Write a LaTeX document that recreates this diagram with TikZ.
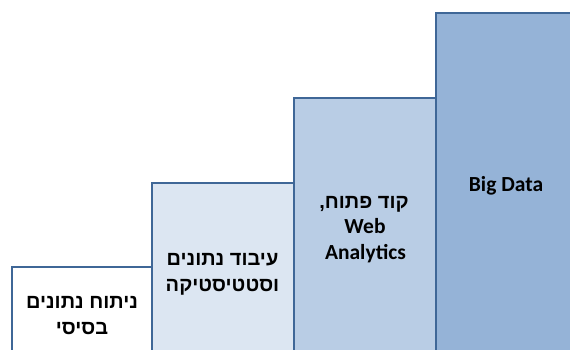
\documentclass[tikz,border=0pt]{standalone}
\usepackage{fontspec}
\setmainfont{Carlito}
\newfontfamily\hebfont[Script=Hebrew]{Liberation Sans Bold}
\TeXXeTstate=1
\definecolor{barline}{HTML}{3F6797}
\definecolor{fillA}{HTML}{FFFFFF}
\definecolor{fillB}{HTML}{DCE6F2}
\definecolor{fillC}{HTML}{B9CDE5}
\definecolor{fillD}{HTML}{95B3D7}
\tikzset{
  bar/.style={draw=barline, line width=1.6pt},
  heb/.style={anchor=base, inner sep=0pt, font=\hebfont\fontsize{20}{24}\selectfont},
  latin/.style={anchor=base, inner sep=0pt, font=\bfseries\fontsize{21.5}{24}\selectfont},
}
\begin{document}
\begin{tikzpicture}[x=1pt,y=-1pt]
\useasboundingbox (0,0) rectangle (570,349);
\clip (0,0) rectangle (570,349);
\fill[white] (0,0) rectangle (570,349);
\draw[bar, fill=fillD] (436,13) rectangle (590,370);
\draw[bar, fill=fillC] (294,98) rectangle (436,370);
\draw[bar, fill=fillB] (152,183) rectangle (294,370);
\draw[bar, fill=fillA] (12,267) rectangle (152,370);
\node[heb] (t1a) at (82,308) {\beginR ניתוח נתונים\endR};
\node[heb] (t1b) at (82,334) {\beginR בסיסי\endR};
\node[heb] (t2a) at (222.5,265) {\beginR עיבוד נתונים\endR};
\node[heb] (t2b) at (222.5,291) {\beginR וסטטיסטיקה\endR};
\node[heb] (t3a) at (364,208) {\beginR קוד פתוח,\endR};
\node[latin] (t3b) at (365,233) {Web};
\node[latin] (t3c) at (365.5,259) {Analytics};
\node[latin] (t4) at (506,191) {Big Data};
\end{tikzpicture}
\end{document}
